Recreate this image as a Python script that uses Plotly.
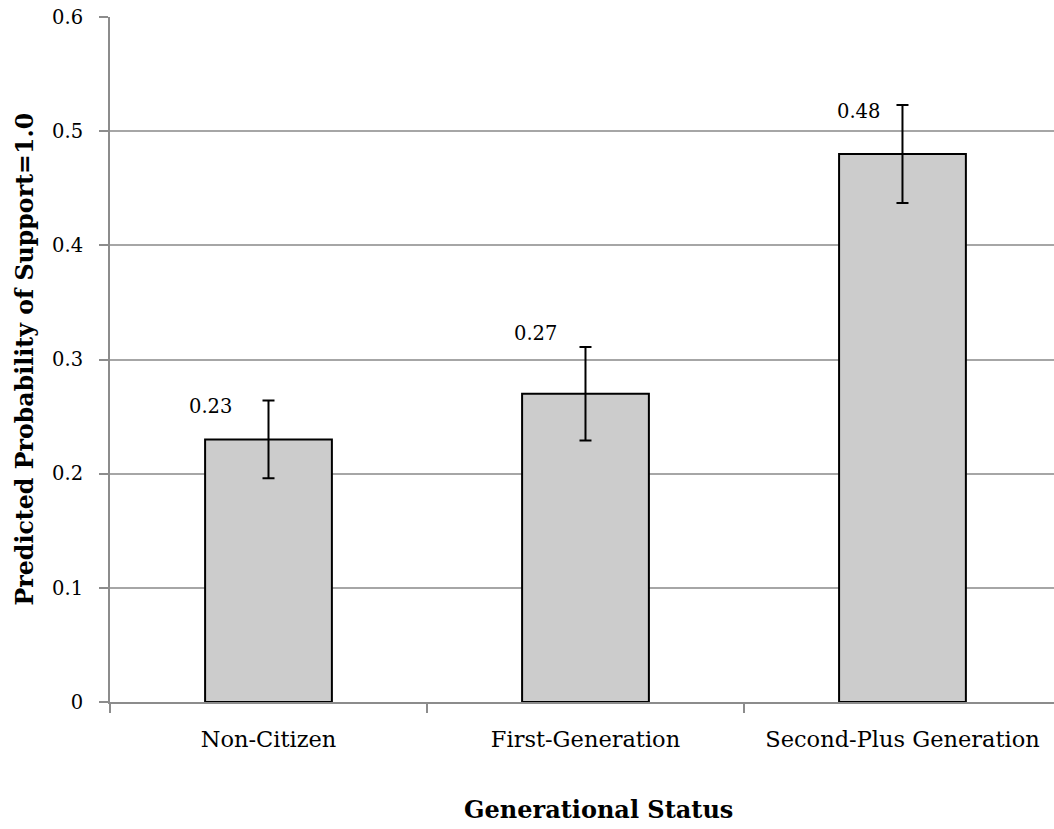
import plotly.graph_objects as go

# ---- data ----
categories = ["Non-Citizen", "First-Generation", "Second-Plus Generation"]
probabilities = [0.23, 0.27, 0.48]
error_margins = [0.034, 0.041, 0.043]
value_labels = ["0.23", "0.27", "0.48"]
y_ticks = [0, 0.1, 0.2, 0.3, 0.4, 0.5, 0.6]

x_title = "Generational Status"
y_title = "Predicted Probability of Support=1.0"

# ---- styling ----
FONT = "DejaVu Serif"
label_xshift = [-58, -50, -44]
label_yshift = [33, 60, 43]

fig = go.Figure()
fig.add_trace(go.Bar(
    x=categories,
    y=probabilities,
    marker=dict(color="#cccccc", line=dict(color="black", width=2)),
    error_y=dict(type="data", array=error_margins, visible=True,
                 color="black", thickness=2, width=6),
    width=0.4,
    hoverinfo="x+y",
))

for i, (cat, val, txt) in enumerate(zip(categories, probabilities, value_labels)):
    fig.add_annotation(x=cat, y=val, text=txt, showarrow=False,
                       xshift=label_xshift[i], yshift=label_yshift[i],
                       xanchor="center", yanchor="middle",
                       font=dict(family=FONT, size=19.5, color="black"))

fig.add_annotation(x=0.518, y=-0.157, xref="paper", yref="paper",
                   text="<b>" + x_title + "</b>", showarrow=False,
                   xanchor="center", yanchor="middle",
                   font=dict(family=FONT, size=24, color="black"))
fig.add_annotation(x=-0.0911, y=0.5, xref="paper", yref="paper",
                   text="<b>" + y_title + "</b>", showarrow=False,
                   textangle=-90, xanchor="center", yanchor="middle",
                   font=dict(family=FONT, size=23.7, color="black"))

fig.update_layout(
    width=1054, height=829,
    margin=dict(l=110, r=0, t=17, b=127),
    paper_bgcolor="white", plot_bgcolor="white",
    showlegend=False,
    bargap=0.6,
)
fig.update_xaxes(
    range=[-0.5, 2.478],
    showline=True, linecolor="#8c8c8c", linewidth=2,
    ticks="outside", tickson="boundaries", ticklen=9, tickcolor="#8c8c8c", tickwidth=2,
    tickfont=dict(family=FONT, size=22.5, color="black"),
    ticklabelstandoff=16,
    showgrid=False,
)
fig.update_yaxes(
    range=[0, 0.6], tickvals=y_ticks,
    showline=True, linecolor="#8c8c8c", linewidth=2,
    ticks="outside", ticklen=9, tickcolor="#8c8c8c", tickwidth=2,
    tickfont=dict(family=FONT, size=19.5, color="black"),
    ticklabelstandoff=12,
    showgrid=True, gridcolor="#a6a6a6", gridwidth=2,
    zeroline=False,
)

fig.write_html("out.html",
               config={"displayModeBar": False},
               post_script="document.body.style.margin='0';document.body.style.overflow='hidden';")
